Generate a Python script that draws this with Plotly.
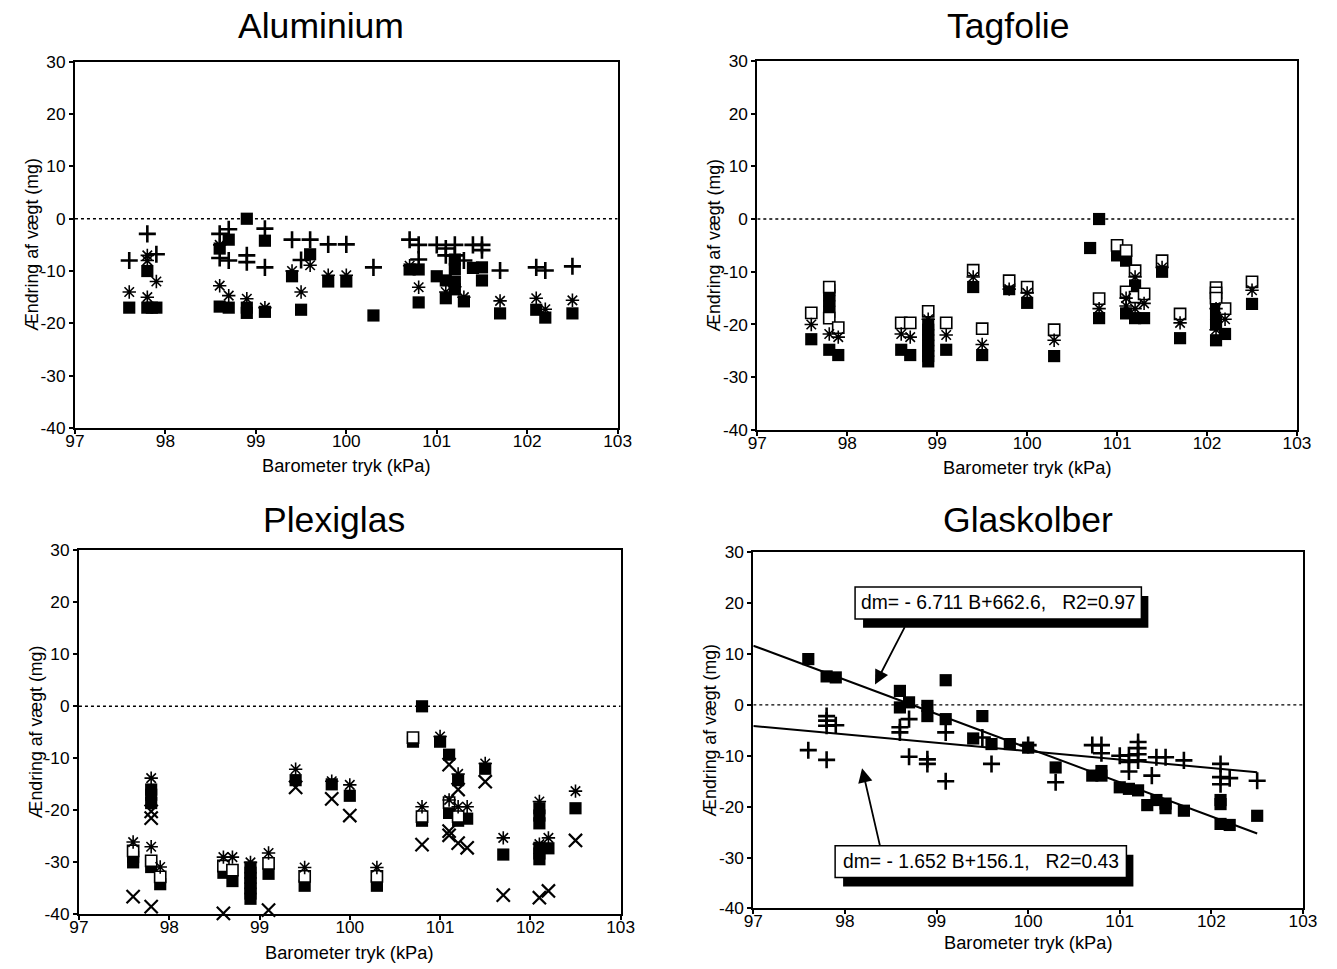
import plotly.graph_objects as go

W, H = 1337, 969          # target picture size
BODY = 8                  # default page margin around the plot div
K = 0.9845                # observed page-to-picture scale of the photograph
FW, FH = round(W / K) - 2 * BODY, round(H / K) - 2 * BODY

# ---------------- data (B = barometer pressure kPa, dm = weight change mg) ----------------
ALU_FILLED = [(97.6,-17),(97.8,-10),(97.8,-17),(97.85,-17),(97.9,-17),(98.6,-5.7),(98.6,-16.8),
              (98.7,-4),(98.7,-17),(98.9,0),(98.9,-17),(98.9,-18),(99.1,-4.2),(99.1,-17.8),
              (99.4,-11),(99.5,-17.4),(99.6,-6.8),(99.8,-12),(100.0,-12),(100.3,-18.5),
              (100.7,-9.7),(100.8,-9.7),(100.8,-16),(101.0,-11),(101.1,-11.8),(101.1,-15.2),
              (101.2,-7.8),(101.2,-9.6),(101.2,-12),(101.2,-13.5),(101.3,-15.8),(101.4,-9.4),
              (101.5,-9.3),(101.5,-11.8),(101.7,-18.1),(102.1,-17.4),(102.2,-18.9),(102.5,-18.1)]
ALU_STAR = [(97.6,-14),(97.8,-7),(97.8,-8),(97.9,-12),(97.8,-15),(98.6,-5),(98.6,-12.8),
            (98.7,-14.7),(98.9,-15.3),(99.1,-17),(99.4,-10),(99.5,-14),(99.6,-8.9),(99.8,-10.8),
            (100.0,-10.8),(100.7,-9),(100.8,-13.1),(101.1,-14),(101.2,-13),(101.3,-15),
            (101.7,-15.7),(102.1,-15.2),(102.2,-17.3),(102.5,-15.6)]
ALU_PLUS = [(97.6,-8),(97.8,-2.9),(97.9,-6.8),(98.6,-2.9),(98.6,-7.5),(98.7,-2),(98.7,-8),
            (98.9,-7),(98.9,-8.3),(99.1,-1.9),(99.1,-9.3),(99.4,-4),(99.5,-7.9),(99.6,-4),
            (99.8,-4.9),(100.0,-4.9),(100.3,-9.3),(100.7,-4),(100.8,-5),(100.8,-7.8),(101.0,-5),
            (101.1,-5.7),(101.1,-7),(101.2,-5),(101.2,-7),(101.3,-8),(101.4,-5),(101.5,-5),
            (101.5,-6),(101.7,-9.9),(102.1,-9.3),(102.2,-9.9),(102.5,-9.1)]

TAG_FILLED = [(97.6,-22.8),(97.8,-13.5),(97.8,-14.5),(97.8,-15.5),(97.8,-16.5),(97.8,-17.6),
              (97.8,-24.8),(97.9,-25.8),(98.6,-24.8),(98.7,-25.8),(98.9,-20),(98.9,-21),(98.9,-22),
              (98.9,-23),(98.9,-24),(98.9,-25),(98.9,-26),(98.9,-27),(99.1,-24.8),(99.4,-12.9),
              (99.5,-25.8),(99.8,-13.3),(100.0,-15.9),(100.3,-26),(100.7,-5.5),(100.8,0),
              (100.8,-18.8),(101.0,-6.9),(101.1,-7.9),(101.1,-17.9),(101.2,-12.6),(101.2,-18.8),
              (101.3,-18.8),(101.5,-10),(101.7,-22.6),(102.1,-16),(102.1,-18),(102.1,-20),
              (102.1,-23),(102.2,-21.8),(102.5,-16.1)]
TAG_OPEN = [(97.6,-17.8),(97.8,-12.9),(97.8,-18.8),(97.9,-20.6),(98.6,-19.7),(98.7,-19.7),
            (98.9,-17.5),(99.1,-19.7),(99.4,-9.7),(99.5,-20.8),(99.8,-11.7),(100.0,-12.9),
            (100.3,-21),(100.8,-15.1),(101.0,-5),(101.1,-6),(101.1,-13.8),(101.2,-9.8),
            (101.2,-14.8),(101.3,-14.2),(101.5,-7.9),(101.7,-18),(102.1,-13),(102.1,-14),
            (102.1,-15),(102.2,-17),(102.5,-11.9)]
TAG_STAR = [(97.6,-20),(97.8,-21.8),(97.9,-22.4),(98.6,-21.8),(98.7,-22.4),(98.9,-19),(99.1,-22),
            (99.4,-11),(99.5,-23.8),(99.8,-13.3),(100.0,-14),(100.3,-23),(100.8,-17),(101.1,-15),
            (101.1,-16.5),(101.2,-11),(101.2,-17),(101.3,-16),(101.5,-9.2),(101.7,-19.7),
            (102.1,-21),(102.1,-17),(102.2,-19),(102.5,-13.5)]

PLX_FILLED = [(97.6,-29),(97.6,-30),(97.8,-16),(97.8,-17),(97.8,-18.6),(97.8,-30.9),(97.9,-34.2),
              (98.6,-32),(98.7,-33.6),(98.9,-31),(98.9,-32),(98.9,-33),(98.9,-34),(98.9,-35),
              (98.9,-36),(98.9,-37),(99.1,-32.2),(99.4,-14.2),(99.5,-34.5),(99.8,-15),(100.0,-17.2),
              (100.3,-34.5),(100.7,-6.8),(100.8,0),(100.8,-22),(101.0,-6.8),(101.1,-9.3),
              (101.1,-19),(101.1,-20.5),(101.2,-14.2),(101.2,-22),(101.3,-21.6),(101.5,-12),
              (101.7,-28.5),(102.1,-19.6),(102.1,-21),(102.1,-22.5),(102.1,-27.2),(102.1,-28.3),
              (102.1,-29.4),(102.2,-27.3),(102.5,-19.6)]
PLX_OPEN = [(97.6,-27.8),(97.8,-29.7),(97.9,-32.8),(98.6,-30.7),(98.7,-31.5),(99.1,-30.2),
            (99.5,-32.7),(100.3,-32.7),(100.7,-6),(100.8,-21.2),(101.1,-18.5),(101.2,-21.2)]
PLX_STAR = [(97.6,-26.1),(97.8,-13.8),(97.8,-27),(97.9,-30.9),(98.6,-29),(98.7,-29),(98.9,-30),
            (99.1,-28.2),(99.4,-12.1),(99.5,-31),(99.8,-14.4),(100.0,-15.1),(100.3,-31),
            (101.0,-5.8),(100.8,-19.3),(101.1,-18),(101.2,-13),(101.2,-19.3),(101.3,-19.3),
            (101.5,-11),(101.7,-25.3),(102.1,-18.3),(102.1,-26.5),(102.2,-25.3),(102.5,-16.3)]
PLX_CROSS = [(97.6,-36.6),(97.8,-20.2),(97.8,-21.5),(97.8,-38.5),(98.6,-39.8),(99.1,-39.2),
             (99.4,-15.6),(99.8,-17.8),(100.0,-21),(100.8,-26.6),(101.1,-11.2),(101.1,-24),
             (101.1,-24.8),(101.2,-16),(101.2,-26.3),(101.3,-27.2),(101.5,-14.5),(101.7,-36.3),
             (102.1,-36.8),(102.2,-35.5),(102.5,-25.8)]

GLS_FILLED = [(97.6,9),(97.8,5.6),(97.9,5.4),(98.6,2.75),(98.6,-0.5),(98.7,0.5),(98.9,-0.2),
              (98.9,-2.2),(99.1,4.85),(99.1,-2.8),(99.4,-6.6),(99.5,-2.2),(99.6,-7.7),(99.8,-7.7),
              (100.0,-8.4),(100.3,-12.3),(100.7,-13.9),(100.8,-13.9),(100.8,-13),(101.0,-16.2),
              (101.1,-16.5),(101.2,-16.8),(101.3,-19.7),(101.4,-18.7),(101.5,-19.4),(101.5,-20.3),
              (101.7,-20.8),(102.1,-18.7),(102.1,-19.5),(102.1,-23.4),(102.2,-23.6),(102.5,-21.8)]
GLS_PLUS = [(97.6,-8.9),(97.8,-2.2),(97.8,-3.1),(97.8,-4.1),(97.9,-4),(97.8,-10.8),(98.6,-4.4),
            (98.6,-5.4),(98.7,-2.8),(98.7,-10.2),(98.9,-10.7),(98.9,-11.6),(99.1,-5.4),(99.1,-15),
            (99.5,-6.4),(99.6,-11.6),(100.0,-7.9),(100.3,-15.2),(100.7,-7.9),(100.8,-7.9),
            (100.8,-9.5),(101.0,-10),(101.1,-9.9),(101.1,-11.2),(101.1,-13.1),(101.2,-7.3),
            (101.2,-8.5),(101.2,-9.7),(101.2,-10.9),(101.35,-13.9),(101.4,-10.3),(101.5,-10.3),
            (101.7,-10.9),(102.1,-11.6),(102.1,-14.2),(102.1,-15.6),(102.2,-14.4),(102.5,-14.9)]

# fitted lines printed on the chart: dm = slope*B + intercept, drawn over B range
FIT_SQ = (-6.711, 662.6)
FIT_PLUS = (-1.652, 156.1)
FIT_RANGE = [97.0, 102.5]

TITLES = ["Aluminium", "Tagfolie", "Plexiglas", "Glaskolber"]
XTITLE = "Barometer tryk (kPa)"
YTITLE = "Ændring af vægt (mg)"
LABEL_SQ = "dm= - 6.711 B+662.6,   R2=0.97"
LABEL_PLUS = "dm= - 1.652 B+156.1,   R2=0.43"
X_TICKS = [97, 98, 99, 100, 101, 102, 103]
Y_TICKS = [30, 20, 10, 0, -10, -20, -30, -40]

# ---------------- layout helpers (positions given in target-picture pixels) ----------------
FONT = "Liberation Sans, Arial, sans-serif"
def px(x): return (x / K - BODY) / FW
def py(y): return 1 - (y / K - BODY) / FH
def fs(s): return s / K

# plot areas in pixels (left, right, top, bottom)
AREAS = [(73, 617, 60, 428), (757, 1298, 59, 430), (77, 620, 551, 917), (753, 1304, 553, 911)]
TITLE_POS = [(320, 24), (1009, 24), (333, 521), (1028, 521)]
XTITLE_DY = [38, 38, 38, 34]

STY = {
    "filled": dict(symbol="square", size=fs(12), color="black", line=dict(width=0)),
    "open": dict(symbol="square", size=fs(11), color="white", line=dict(width=1.6, color="black")),
    "star": dict(symbol="asterisk-open", size=fs(11), color="black",
                 line=dict(width=1.6, color="black")),
    "plus": dict(symbol="cross-thin-open", size=fs(12), color="black",
                 line=dict(width=2.6, color="black")),
    "cross": dict(symbol="x-thin-open", size=fs(13), color="black",
                  line=dict(width=2.2, color="black")),
}

panels = [
    [("filled", ALU_FILLED), ("star", ALU_STAR), ("plus", ALU_PLUS)],
    [("filled", TAG_FILLED), ("open", TAG_OPEN), ("star", TAG_STAR)],
    [("filled", PLX_FILLED), ("open", PLX_OPEN), ("star", PLX_STAR), ("cross", PLX_CROSS)],
    [("filled", GLS_FILLED), ("plus", GLS_PLUS)],
]

fig = go.Figure()
layout = dict(width=FW, height=FH, margin=dict(l=0, r=0, t=0, b=0), paper_bgcolor="white",
              plot_bgcolor="white", showlegend=False, font=dict(family=FONT, color="black"))
shapes, annotations = [], []

for i, (series, area) in enumerate(zip(panels, AREAS)):
    n = "" if i == 0 else str(i + 1)
    xa, ya = "x" + n, "y" + n
    l, r, t, b = area
    for kind, pts in series:
        fig.add_trace(go.Scatter(x=[p[0] for p in pts], y=[p[1] for p in pts], mode="markers",
                                 marker=STY[kind], xaxis=xa, yaxis=ya, cliponaxis=False))
    axcommon = dict(showline=True, linewidth=2, linecolor="black", mirror=True, ticks="outside",
                    ticklen=4, tickwidth=1.5, tickcolor="black", showgrid=False, zeroline=False,
                    tickfont=dict(size=fs(17), family=FONT))
    layout["xaxis" + n] = dict(axcommon, domain=[px(l), px(r)], range=[97, 103],
                               tickvals=X_TICKS, ticktext=[str(v) for v in X_TICKS],
                               anchor=ya, ticklabelstandoff=-8)
    layout["yaxis" + n] = dict(axcommon, domain=[py(b), py(t)], range=[-40, 30],
                               tickvals=Y_TICKS, ticktext=[str(v) for v in Y_TICKS],
                               anchor=xa, ticklabelstandoff=0)
    shapes.append(dict(type="line", xref=xa, yref=ya, x0=97, x1=103, y0=0, y1=0,
                       line=dict(color="black", width=1.4, dash="dot"), layer="below"))
    tx, ty = TITLE_POS[i]
    annotations.append(dict(text=TITLES[i], x=px(tx), y=py(ty), xref="paper", yref="paper",
                            showarrow=False, font=dict(size=fs(35), family=FONT), xanchor="center",
                            yanchor="middle"))
    annotations.append(dict(text=XTITLE, x=px((l + r) / 2), y=py(b + XTITLE_DY[i]), xref="paper",
                            yref="paper", showarrow=False, font=dict(size=fs(18), family=FONT),
                            xanchor="center", yanchor="middle"))
    annotations.append(dict(text=YTITLE, x=px(l - 43), y=py((t + b) / 2), xref="paper",
                            yref="paper", showarrow=False, textangle=-90,
                            font=dict(size=fs(17.5), family=FONT), xanchor="center",
                            yanchor="middle"))

# regression lines in Glaskolber panel
for slope, icpt in (FIT_SQ, FIT_PLUS):
    fig.add_trace(go.Scatter(x=FIT_RANGE, y=[slope * v + icpt for v in FIT_RANGE], mode="lines",
                             line=dict(color="black", width=2), xaxis="x4", yaxis="y4"))

# label boxes with drop shadow (pixel positions)
for (bx0, bx1, by0, by1), label in (((855, 1142, 588, 620), LABEL_SQ),
                                    ((835, 1127, 848, 880), LABEL_PLUS)):
    shapes.append(dict(type="rect", xref="paper", yref="paper", x0=px(bx0 + 8), x1=px(bx1 + 7),
                       y0=py(by1 + 9), y1=py(by0 + 9), fillcolor="black", line=dict(width=0),
                       layer="above"))
    shapes.append(dict(type="rect", xref="paper", yref="paper", x0=px(bx0), x1=px(bx1),
                       y0=py(by1), y1=py(by0), fillcolor="white",
                       line=dict(width=1.5, color="black"), layer="above"))
    annotations.append(dict(text=label, x=px((bx0 + bx1) / 2), y=py((by0 + by1) / 2),
                            xref="paper", yref="paper", showarrow=False,
                            font=dict(size=fs(19), family=FONT), xanchor="center",
                            yanchor="middle"))

# arrows
for (hx, hy, tx, ty) in ((875, 686, 905, 628), (862, 770, 880, 848)):
    annotations.append(dict(text="", x=px(hx), y=py(hy), xref="paper", yref="paper",
                            showarrow=True, ax=(tx - hx) / K, ay=(ty - hy) / K, arrowhead=2,
                            arrowsize=1.6, arrowwidth=1.8, arrowcolor="black"))

layout["shapes"] = shapes
layout["annotations"] = annotations
fig.update_layout(**layout)
fig.write_html("out.html")
